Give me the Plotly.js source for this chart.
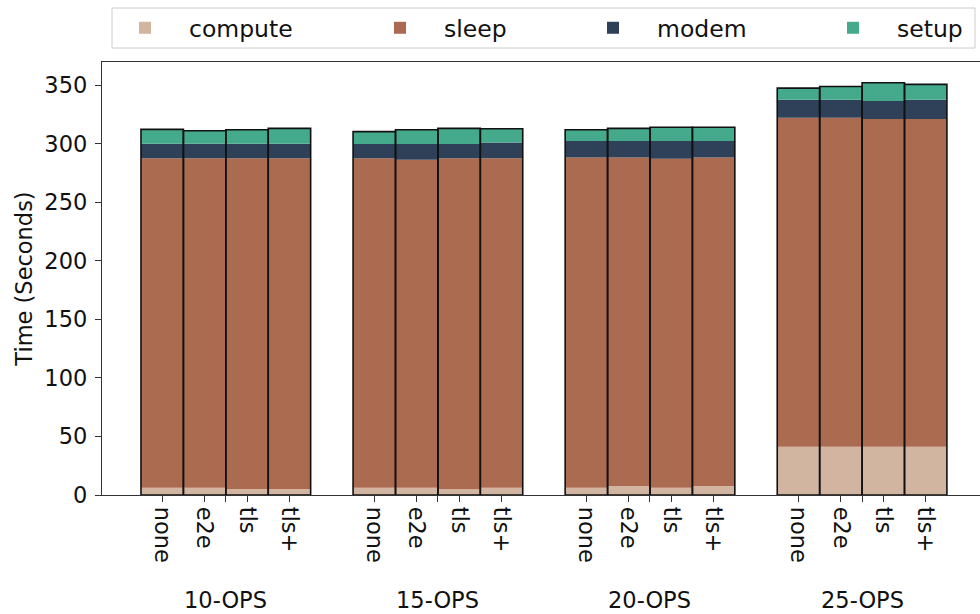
<!DOCTYPE html>
<html>
<head>
<meta charset="utf-8">
<script src="https://cdn.plot.ly/plotly-3.0.1.min.js"></script>
<style>
  html, body { margin: 0; padding: 0; background: #fff; }
  #chart { width: 980px; height: 614px; }
</style>
</head>
<body>
<div id="chart"></div>
<script>
// Workload groups and security configurations
const groups = ['10-OPS', '15-OPS', '20-OPS', '25-OPS'];
const configs = ['none', 'e2e', 'tls', 'tls+'];

// Time spent per phase (seconds), ordered group by group, config by config
const compute = [6.2, 6.2, 5.1, 5.1,   6.2, 6.2, 4.9, 6.2,   6.2, 7.7, 6.2, 7.7,   41.2, 41.2, 41.2, 41.2];
const sleep   = [281.5, 281.5, 282.6, 282.6,   281.5, 280.3, 282.8, 281.5,   282.3, 280.8, 281.1, 280.8,   281.2, 281.2, 280.0, 280.0];
const modem   = [12.5, 12.5, 12.5, 12.5,   12.2, 13.4, 12.2, 13.6,   14.0, 14.0, 15.2, 14.0,   15.4, 15.4, 15.4, 16.6];
const setup   = [12.2, 11.1, 11.9, 13.1,   10.6, 12.2, 13.4, 11.7,   9.6, 10.8, 11.7, 11.7,   9.9, 11.3, 15.7, 13.1];

const phaseColors = {
  compute: '#d2b5a1',
  sleep: '#ab6b50',
  modem: '#2e4159',
  setup: '#44aa8b'
};

// Bars of one group sit side by side, with one empty slot between groups
const slot = configs.length + 1;
const xPos = [];
const tickVals = [];
const tickText = [];
groups.forEach((g, gi) => {
  configs.forEach((c, ci) => {
    xPos.push(gi * slot + ci);
    tickVals.push(gi * slot + ci);
    tickText.push(c);
  });
  // group centre tick, labelled separately below
  tickVals.push(gi * slot + (configs.length - 1) / 2);
  tickText.push('');
});

// stack bases; each phase gets its own legend so the key can spread across the top
const layers = [
  ['compute', compute, 'legend'],
  ['sleep', sleep, 'legend2'],
  ['modem', modem, 'legend3'],
  ['setup', setup, 'legend4']
];
const running = xPos.map(() => 0);
const traces = layers.map(([name, vals, leg]) => {
  const base = running.slice();
  vals.forEach((v, i) => { running[i] += v; });
  return {
    type: 'bar',
    name: name,
    legend: leg,
    x: xPos,
    y: vals,
    base: base,
    width: 1,
    marker: { color: phaseColors[name], line: { width: 0 } },
    hoverinfo: 'name+y'
  };
});

// outline around each whole stack
traces.push({
  type: 'bar',
  x: xPos,
  y: running.slice(),
  base: xPos.map(() => 0),
  width: 1,
  marker: { color: 'rgba(0,0,0,0)', line: { color: '#111', width: 1.6 } },
  showlegend: false,
  hoverinfo: 'skip'
});

const font = { family: 'DejaVu Sans', size: 22, color: '#111' };
const tickFont = { family: 'DejaVu Sans', size: 22.5, color: '#111' };
const legendFont = { family: 'DejaVu Sans', size: 23.5, color: '#111' };

const annotations = groups.map((g, gi) => ({
  x: gi * slot + (configs.length - 1) / 2,
  xref: 'x',
  y: -0.2425,
  yref: 'paper',
  text: g,
  showarrow: false,
  xanchor: 'center',
  yanchor: 'middle',
  font: tickFont
}));

function legendAt(px) {
  return {
    orientation: 'h',
    xref: 'container',
    x: px / 980,
    xanchor: 'left',
    yref: 'container',
    y: 1 - 28 / 614,
    yanchor: 'middle',
    borderwidth: 0,
    bgcolor: 'rgba(0,0,0,0)',
    itemwidth: 78,
    font: legendFont
  };
}

const layout = {
  width: 980,
  height: 614,
  margin: { l: 102, r: 0, t: 62, b: 119 },
  paper_bgcolor: '#fff',
  plot_bgcolor: '#fff',
  barmode: 'overlay',
  font: font,
  showlegend: true,
  legend: legendAt(101),
  legend2: legendAt(356),
  legend3: legendAt(569),
  legend4: legendAt(809),
  shapes: [{
    // frame around the key
    type: 'rect',
    xref: 'paper', yref: 'paper',
    x0: (112 - 102) / 878, x1: (975 - 102) / 878,
    y0: 1 + (62 - 48) / 433, y1: 1 + (62 - 8) / 433,
    line: { color: '#cccccc', width: 1 },
    fillcolor: 'rgba(0,0,0,0)',
    layer: 'below'
  }],
  xaxis: {
    range: [-1.419, 19.28],
    tickvals: tickVals,
    ticktext: tickText,
    tickangle: 90,
    ticks: 'outside',
    ticklen: 6,
    tickwidth: 1,
    tickcolor: '#333',
    showline: true,
    linecolor: '#333',
    linewidth: 1.2,
    mirror: true,
    showgrid: false,
    zeroline: false,
    tickfont: tickFont,
    automargin: false
  },
  yaxis: {
    range: [0, 370],
    tickvals: [0, 50, 100, 150, 200, 250, 300, 350],
    ticks: 'outside',
    ticklen: 6,
    tickwidth: 1,
    tickcolor: '#333',
    ticklabelstandoff: 3,
    showline: true,
    linecolor: '#333',
    linewidth: 1.2,
    showgrid: false,
    zeroline: false,
    tickfont: tickFont,
    title: { text: 'Time (Seconds)', font: tickFont, standoff: 5 },
    automargin: false
  },
  annotations: annotations
};

Plotly.newPlot('chart', traces, layout, { displayModeBar: false, staticPlot: true });
</script>
</body>
</html>
